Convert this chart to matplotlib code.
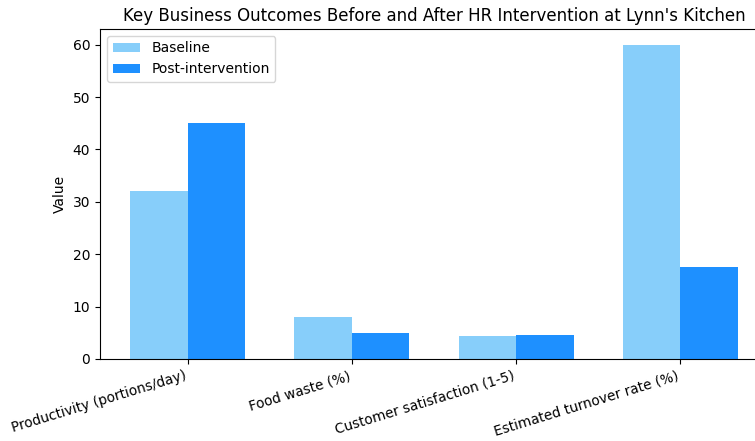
import numpy as np
import matplotlib
matplotlib.use('Agg')
import matplotlib.pyplot as plt

# Outcome categories and values
categories = ['Productivity (portions/day)', 'Food waste (%)',
              'Customer satisfaction (1-5)', 'Estimated turnover rate (%)']
baseline = [32, 8, 4.4, 60]
post_intervention = [45, 5, 4.6, 17.5]

x = np.arange(len(categories))
width = 0.35

fig = plt.figure(figsize=(7.55, 4.41), dpi=100)
# right edge of the axes runs past the figure, as in the reference
ax = fig.add_axes([100/755, 82/441, 668/755, 330/441])
ax.bar(x - width/2, baseline, width, color='lightskyblue', label='Baseline')
ax.bar(x + width/2, post_intervention, width, color='dodgerblue', label='Post-intervention')

ax.set_xticks(x)
ax.set_xticklabels(categories, rotation=17, ha='right', fontsize=9.8)
ax.set_ylabel('Value')
ax.set_title("Key Business Outcomes Before and After HR Intervention at Lynn's Kitchen")
ax.legend(loc='upper left')

fig.savefig('out.png', dpi=100)
